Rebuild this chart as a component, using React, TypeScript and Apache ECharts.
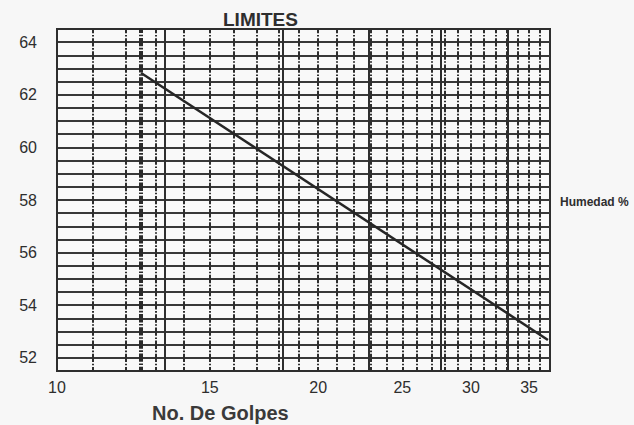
import React, { useEffect, useRef } from 'react';
import * as echarts from 'echarts';

// Data
const golpes = [12.5, 36.8];
const humedad = [62.83, 52.68];
const xTickLabels = [10, 15, 20, 25, 30, 35];
const xDashedLines = [11, 12, 13, 14, 15, 16, 17, 18, 19, 20, 21, 22, 23, 24, 25, 26, 27, 28, 29, 30, 31, 32, 33, 34, 35, 36];
const xSolidLines = [13.3, 18.2, 22.9, 27.7, 33.1];
const yTickLabels = [52, 54, 56, 58, 60, 62, 64];
const markerGolpes = 12.5;
const seriesName = 'Humedad %';

const FONT = '"Liberation Sans", Arial, sans-serif';
const INK = '#2e2e2e';

export default function App() {
  const ref = useRef<HTMLDivElement>(null);
  useEffect(() => {
    if (!ref.current) return;
    const chart = echarts.init(ref.current, undefined, { renderer: 'svg' });
    chart.setOption({
      animation: false,
      backgroundColor: '#f7f7f7',
      textStyle: { fontFamily: FONT },
      title: [
        {
          text: 'LIMITES',
          left: 218,
          top: 5,
          textStyle: { fontSize: 19, fontWeight: 'bold', color: INK, fontFamily: FONT },
        },
        {
          text: 'No. De Golpes',
          left: 147,
          top: 398,
          textStyle: { fontSize: 20, fontWeight: 'bold', color: '#3a3a3a', fontFamily: FONT },
        },
      ],
      legend: {
        data: [seriesName],
        left: 549,
        top: 191,
        itemWidth: 0,
        itemHeight: 0,
        itemGap: 0,
        itemStyle: { opacity: 0 },
        lineStyle: { opacity: 0 },
        textStyle: { fontSize: 12, fontWeight: 'bold', color: INK, fontFamily: FONT },
      },
      grid: {
        left: 57,
        top: 29,
        right: 84,
        bottom: 54,
        show: true,
        borderColor: INK,
        borderWidth: 2,
        backgroundColor: '#f9f9f9',
      },
      xAxis: [
        {
          type: 'log',
          logBase: 10,
          min: 10,
          max: 37,
          position: 'bottom',
          axisLine: { show: true, lineStyle: { color: INK, width: 2 } },
          axisTick: { show: false, customValues: xDashedLines },
          axisLabel: {
            customValues: xTickLabels,
            fontSize: 16,
            color: INK,
            margin: 8,
            fontFamily: FONT,
          },
          splitLine: {
            show: true,
            lineStyle: { color: INK, width: 2, type: [8.35, 1.6, 1.6, 1.6], dashOffset: 4.2 },
          },
        },
        {
          type: 'log',
          logBase: 10,
          min: 10,
          max: 37,
          position: 'top',
          axisLine: { show: true, lineStyle: { color: INK, width: 2 } },
          axisTick: { show: false, customValues: xSolidLines },
          axisLabel: { show: false },
          splitLine: { show: true, lineStyle: { color: INK, width: 2, type: 'solid' } },
        },
      ],
      yAxis: {
        type: 'value',
        min: 51.5,
        max: 64.5,
        interval: 0.5,
        axisLine: { show: true, lineStyle: { color: INK, width: 2 } },
        axisTick: { show: false },
        axisLabel: {
          customValues: yTickLabels,
          fontSize: 16,
          color: INK,
          margin: 20,
          fontFamily: FONT,
        },
        splitLine: { show: true, lineStyle: { color: '#383838', width: 2 } },
      },
      series: [
        {
          name: seriesName,
          type: 'line',
          xAxisIndex: 0,
          data: golpes.map((g, i) => [g, humedad[i]]),
          showSymbol: false,
          symbol: 'none',
          lineStyle: { color: '#262626', width: 2.5 },
          itemStyle: { color: '#262626' },
          markLine: {
            silent: true,
            symbol: 'none',
            label: { show: false },
            lineStyle: { color: '#2a2a2a', width: 4, type: [8.35, 1.6, 1.6, 1.6], dashOffset: 4.2 },
            data: [{ xAxis: markerGolpes }],
          },
          z: 5,
        },
      ],
    });
    return () => chart.dispose();
  }, []);
  return <div ref={ref} style={{ width: 634, height: 425, position: 'absolute', left: 0, top: 0 }} />;
}
